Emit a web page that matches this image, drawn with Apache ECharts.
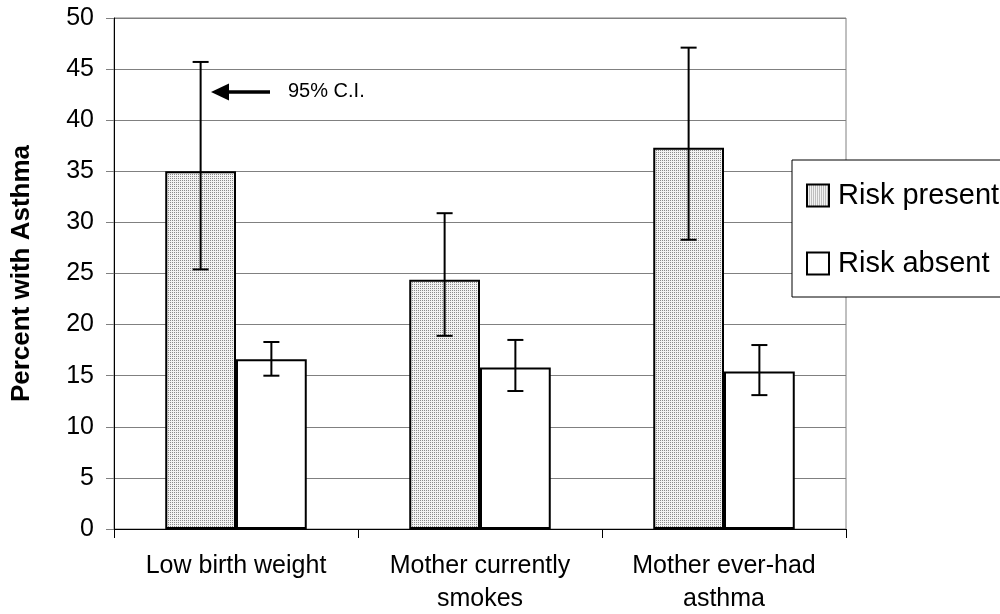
<!DOCTYPE html>
<html>
<head>
<meta charset="utf-8">
<script src="https://cdn.jsdelivr.net/npm/echarts@6/dist/echarts.min.js"></script>
<style>
html,body{margin:0;padding:0;background:#fff;}
#chart{width:1000px;height:614px;}
</style>
</head>
<body>
<div id="chart"></div>
<script>
// ---- data ----
var categories = ['Low birth weight', 'Mother currently\nsmokes', 'Mother ever-had\nasthma'];
var seriesNames = ['Risk present', 'Risk absent'];
var present = [35.0, 24.4, 37.3];
var presentLow = [25.4, 18.9, 28.3];
var presentHigh = [45.7, 30.9, 47.1];
var absent = [16.6, 15.8, 15.4];
var absentLow = [15.0, 13.5, 13.1];
var absentHigh = [18.3, 18.5, 18.0];
var yTicks = [0, 5, 10, 15, 20, 25, 30, 35, 40, 45, 50];
var annotationText = '95% C.I.';
var yAxisTitle = 'Percent with Asthma';

// ---- styles ----
var FONT = '"Liberation Sans", Arial, sans-serif';
var pc = document.createElement('canvas');
pc.width = 2; pc.height = 2;
var pctx = pc.getContext('2d');
pctx.fillStyle = '#f2f2f2'; pctx.fillRect(0, 0, 2, 2);
pctx.fillStyle = '#8a8a8a'; pctx.fillRect(0, 0, 1, 1);
var dotted = {image: pc, repeat: 'repeat'};

function errData(lo, hi) {
  return lo.map(function (v, i) { return [i, v, hi[i]]; });
}
function errRender(offsetFrac) {
  return function (params, api) {
    var i = api.value(0);
    var band = api.size([1, 0])[0];
    var pLo = api.coord([i, api.value(1)]);
    var pHi = api.coord([i, api.value(2)]);
    var cx = pLo[0] + offsetFrac * band;
    var cap = 8;
    var st = {stroke: '#000', lineWidth: 2};
    return {
      type: 'group',
      children: [
        {type: 'line', shape: {x1: cx, y1: pLo[1], x2: cx, y2: pHi[1]}, style: st},
        {type: 'line', shape: {x1: cx - cap, y1: pHi[1], x2: cx + cap, y2: pHi[1]}, style: st},
        {type: 'line', shape: {x1: cx - cap, y1: pLo[1], x2: cx + cap, y2: pLo[1]}, style: st}
      ]
    };
  };
}

var chart = echarts.init(document.getElementById('chart'), null, {renderer: 'canvas'});
var option = {
  backgroundColor: '#fff',
  animation: false,
  textStyle: {fontFamily: FONT, color: '#000'},
  grid: {left: 114, right: 154, top: 18, bottom: 85, containLabel: false, outerBoundsMode: 'none',
    show: true, borderColor: '#808080', borderWidth: 1, backgroundColor: 'transparent'},
  legend: {
    data: seriesNames,
    orient: 'vertical',
    left: 792, top: 160,
    padding: [21, 40, 19, 14],
    itemGap: 39,
    itemWidth: 22, itemHeight: 22,
    icon: 'rect',
    backgroundColor: '#fff',
    borderColor: '#000', borderWidth: 1,
    textStyle: {fontFamily: FONT, fontSize: 29, color: '#000', padding: [0, 0, 0, 4]}
  },
  xAxis: {
    type: 'category',
    data: categories,
    axisLine: {lineStyle: {color: '#000', width: 1}},
    axisTick: {show: true, length: 9, lineStyle: {color: '#000'}},
    axisLabel: {fontFamily: FONT, fontSize: 25, color: '#000', margin: 21, lineHeight: 33, interval: 0}
  },
  yAxis: {
    type: 'value',
    min: 0, max: 50, interval: 5,
    name: yAxisTitle,
    nameLocation: 'middle',
    nameRotate: 90,
    nameGap: 79,
    nameTextStyle: {fontFamily: FONT, fontSize: 26, fontWeight: 'bold', color: '#000'},
    axisLine: {show: true, lineStyle: {color: '#000', width: 1}},
    axisTick: {show: true, length: 8, lineStyle: {color: '#808080'}},
    splitLine: {show: true, lineStyle: {color: '#808080', width: 1}},
    axisLabel: {fontFamily: FONT, fontSize: 25, color: '#000', margin: 20,
      formatter: function (v) { return yTicks.indexOf(v) >= 0 ? String(v) : ''; }}
  },
  series: [
    {
      name: seriesNames[0], type: 'bar', data: present,
      barWidth: '29%', barGap: '0%',
      itemStyle: {color: dotted, borderColor: '#000', borderWidth: 2}
    },
    {
      name: seriesNames[1], type: 'bar', data: absent,
      barWidth: '29%', barGap: '0%',
      itemStyle: {color: '#fff', borderColor: '#000', borderWidth: 2}
    },
    {
      type: 'custom', name: 'err0', data: errData(presentLow, presentHigh),
      renderItem: errRender(-0.145), encode: {x: 0, y: [1, 2]}, z: 10, silent: true
    },
    {
      type: 'custom', name: 'err1', data: errData(absentLow, absentHigh),
      renderItem: errRender(0.145), encode: {x: 0, y: [1, 2]}, z: 10, silent: true
    }
  ],
  graphic: [
    {type: 'line', shape: {x1: 226, y1: 92, x2: 270, y2: 92}, style: {stroke: '#000', lineWidth: 3.5}, z: 20},
    {type: 'polygon', shape: {points: [[211, 92], [229, 83.5], [229, 100.5]]}, style: {fill: '#000'}, z: 20},
    {type: 'text', left: 288, top: 81, style: {text: annotationText, font: '20px ' + FONT, fill: '#000'}, z: 20}
  ]
};
chart.setOption(option);
</script>
</body>
</html>
